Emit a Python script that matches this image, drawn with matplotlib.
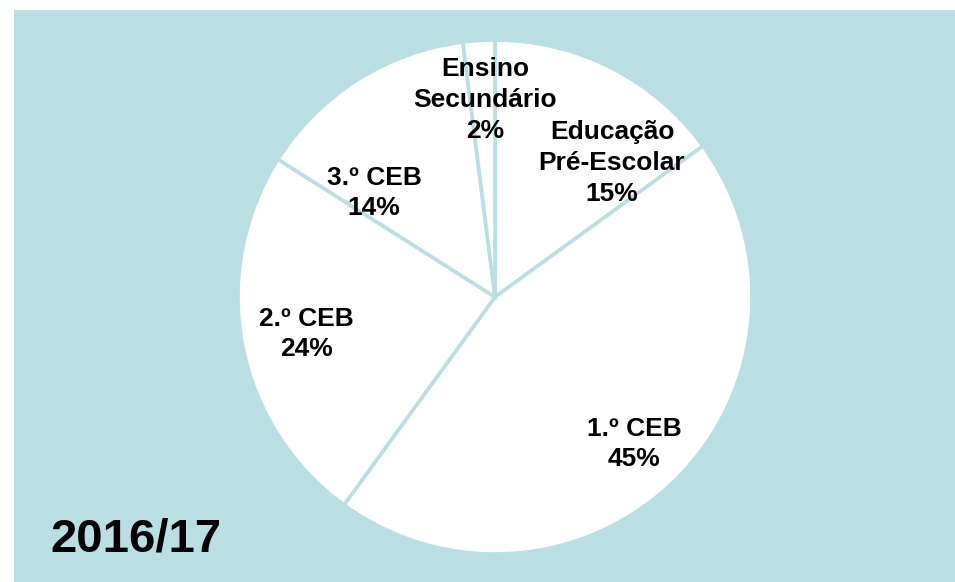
import matplotlib
matplotlib.use('Agg')
import matplotlib.pyplot as plt
from matplotlib.patches import Rectangle

# data (clockwise from 12 o'clock)
categories = ['Educação\nPré-Escolar', '1.º CEB', '2.º CEB', '3.º CEB', 'Ensino\nSecundário']
shares = [15, 45, 24, 14, 2]
title = '2016/17'

bgColor = '#b9dfe3'
W, H = 955, 582

# label centres in pixels (layout only)
labelPix = [(612, 163), (634, 444), (306, 334), (374, 193), (485, 100)]

plt.rcParams['font.family'] = ['Liberation Sans', 'DejaVu Sans']

fig = plt.figure(figsize=(W/100, H/100), dpi=100)
fig.patches.append(Rectangle((14/W, 0), 1, (H-9.5)/H, transform=fig.transFigure,
                             facecolor=bgColor, edgecolor='none', zorder=-5))

cx, cy, r = 495, 297, 257
ax = fig.add_axes([(cx-r)/W, (H-cy-r)/H, 2*r/W, 2*r/H])
ax.set_zorder(2)
ax.patch.set_visible(False)

ax.pie(shares, startangle=90, counterclock=False, radius=1,
       colors=['white']*len(shares),
       wedgeprops=dict(edgecolor=bgColor, linewidth=2.6))
ax.set_xlim(-1, 1)
ax.set_ylim(-1, 1)
ax.axis('off')

for cat, val, (px, py) in zip(categories, shares, labelPix):
    ax.text((px-cx)/r, (cy-py)/r, '%s\n%d%%' % (cat, val), ha='center', va='center',
            fontsize=19, fontweight='bold', linespacing=1.36)

fig.text(50/W, (H-552)/H, title, fontsize=34, fontweight='bold', ha='left', va='baseline',
         zorder=3)

fig.savefig('out.png', dpi=100)
